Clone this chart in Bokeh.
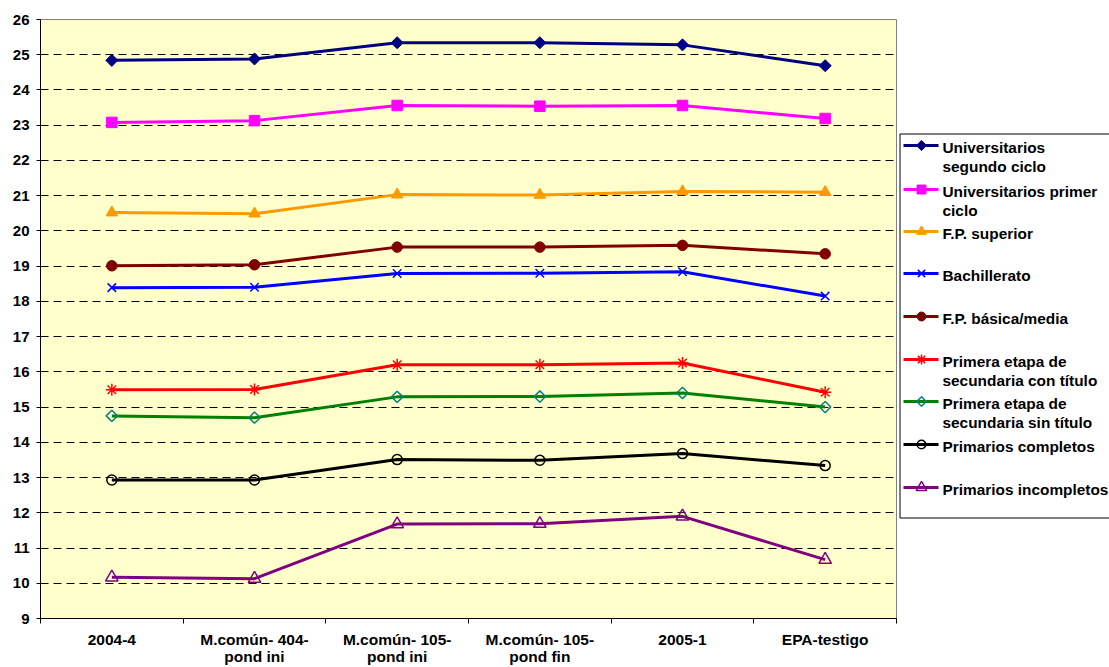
import math

from bokeh.plotting import figure
from bokeh.layouts import row
from bokeh.models import Range1d, FixedTicker
from bokeh.core.properties import value
from bokeh.embed import file_html
from bokeh.resources import INLINE

# Survey waves on the horizontal axis
categories = [
    "2004-4",
    "M.común- 404-\npond ini",
    "M.común- 105-\npond ini",
    "M.común- 105-\npond fin",
    "2005-1",
    "EPA-testigo",
]

# Series labels (line breaks as shown in the key)
series_labels = [
    "Universitarios\nsegundo ciclo",
    "Universitarios primer\nciclo",
    "F.P. superior",
    "Bachillerato",
    "F.P. básica/media",
    "Primera etapa de\nsecundaria con título",
    "Primera etapa de\nsecundaria sin título",
    "Primarios completos",
    "Primarios incompletos",
]

univ_segundo = [24.84, 24.88, 25.34, 25.34, 25.28, 24.69]
univ_primer = [23.08, 23.13, 23.56, 23.54, 23.56, 23.19]
fp_superior = [20.52, 20.49, 21.03, 21.02, 21.12, 21.10]
bachillerato = [18.39, 18.40, 18.79, 18.80, 18.84, 18.15]
fp_basica = [19.01, 19.04, 19.54, 19.54, 19.59, 19.35]
sec_con_titulo = [15.49, 15.50, 16.20, 16.20, 16.25, 15.42]
sec_sin_titulo = [14.75, 14.70, 15.29, 15.30, 15.40, 15.00]
prim_completos = [12.93, 12.93, 13.51, 13.49, 13.68, 13.34]
prim_incompletos = [10.17, 10.13, 11.68, 11.69, 11.90, 10.67]

series_values = [univ_segundo, univ_primer, fp_superior, bachillerato, fp_basica,
                 sec_con_titulo, sec_sin_titulo, prim_completos, prim_incompletos]

y_ticks = list(range(9, 27))

# Line colour, marker shape, marker angle, marker outline, marker fill, size
D = math.pi / 4  # a square turned 45 degrees gives an even diamond
styles = [
    ("#000080", "square", D, "#000080", "#000080", 8.5),
    ("#FF00FF", "square", 0, "#FF00FF", "#FF00FF", 10.5),
    ("#FF9900", "triangle", 0, "#FF9900", "#FF9900", 11.5),
    ("#0000FF", "x", 0, "#0000FF", None, 12),
    ("#800000", "circle", 0, "#800000", "#800000", 10.5),
    ("#FF0000", "asterisk", 0, "#FF0000", None, 12),
    ("#008000", "square", D, "#008080", None, 8),
    ("#000000", "circle", 0, "#000000", None, 10),
    ("#800080", "triangle", 0, "#800080", None, 12.5),
]

FONT = value("Liberation Sans")
xs = [i + 0.5 for i in range(len(categories))]

BORDER_TOP = 19
BORDER_BOTTOM = 49
HEIGHT = 667

p = figure(width=897, height=HEIGHT, output_backend="svg", toolbar_location=None,
           x_range=Range1d(0, len(categories)), y_range=Range1d(9, 26),
           min_border_left=40, min_border_right=1, min_border_top=BORDER_TOP,
           min_border_bottom=BORDER_BOTTOM)
p.background_fill_color = "#FFFFCC"
p.border_fill_color = "white"
p.outline_line_color = "#808080"
p.outline_line_width = 1

p.xgrid.visible = False
p.ygrid.ticker = FixedTicker(ticks=y_ticks)
p.ygrid.grid_line_color = "#000000"
p.ygrid.grid_line_dash = "8 5"
p.ygrid.grid_line_width = 1

# y axis
ya = p.yaxis[0]
ya.ticker = FixedTicker(ticks=y_ticks)
ya.axis_line_color = "#000000"
ya.major_tick_line_color = "#000000"
ya.major_tick_out = 4
ya.major_tick_in = 0
ya.minor_tick_line_color = None
ya.major_label_standoff = 7
ya.major_label_text_font = "Liberation Sans"
ya.major_label_text_font_style = "bold"
ya.major_label_text_font_size = "15px"
ya.major_label_text_color = "#000000"

# x axis: labels centred on categories, tick marks on category boundaries
xa = p.xaxis[0]
xa.ticker = FixedTicker(ticks=xs, minor_ticks=list(range(len(categories) + 1)))
xa.major_label_overrides = {x: c for x, c in zip(xs, categories)}
xa.axis_line_color = "#000000"
xa.major_tick_out = 0
xa.major_tick_in = 0
xa.minor_tick_line_color = "#000000"
xa.minor_tick_out = 5
xa.minor_tick_in = 0
xa.major_label_standoff = 7
xa.major_label_text_font = "Liberation Sans"
xa.major_label_text_font_style = "bold"
xa.major_label_text_font_size = "15.5px"
xa.major_label_text_color = "#000000"
xa.major_label_text_line_height = 1.0


def draw_marker(fig, x, y, mk, ang, mlc, mfc, size):
    if mfc is None:
        fig.scatter(x, y, marker=mk, angle=ang, size=size, line_color=mlc,
                    line_width=1.5, fill_color=None)
    else:
        fig.scatter(x, y, marker=mk, angle=ang, size=size, line_color=mlc,
                    line_width=1, fill_color=mfc)


for vals, (lc, mk, ang, mlc, mfc, ms) in zip(series_values, styles):
    p.line(xs, vals, line_color=lc, line_width=3)
    draw_marker(p, xs, vals, mk, ang, mlc, mfc, ms)

# Key panel to the right of the chart. Its frame lines up with the chart's
# frame in the row, so the y range is set to page pixels over that frame.
leg = figure(width=212, height=HEIGHT, output_backend="svg", toolbar_location=None,
             x_range=Range1d(897, 1109),
             y_range=Range1d(HEIGHT - BORDER_BOTTOM, BORDER_TOP),
             min_border_left=0, min_border_right=0,
             min_border_top=BORDER_TOP, min_border_bottom=BORDER_BOTTOM)
leg.axis.visible = False
leg.grid.visible = False
leg.outline_line_color = None
leg.background_fill_color = "white"
leg.border_fill_color = "white"

leg.quad(left=[899.5], right=[1115], top=[133.5], bottom=[517.5],
         fill_color="white", line_color="#000000", line_width=1)

row_y = [145, 189, 231, 273, 316, 359, 401, 444, 487]
for label, ry, (lc, mk, ang, mlc, mfc, ms) in zip(series_labels, row_y, styles):
    leg.line([903, 938], [ry, ry], line_color=lc, line_width=3)
    draw_marker(leg, [921], [ry], mk, ang, mlc, mfc, ms * 0.85)
    lines = label.split("\n")
    for k, t in enumerate(lines):
        leg.text([942], [ry + 2 + 18.5 * k], text=[t], text_font=FONT,
                 text_font_style="bold", text_font_size="15.4px",
                 text_color="#000000", text_baseline="middle", text_align="left")

layout = row(p, leg)
open("out.html", "w").write(file_html(layout, INLINE))
